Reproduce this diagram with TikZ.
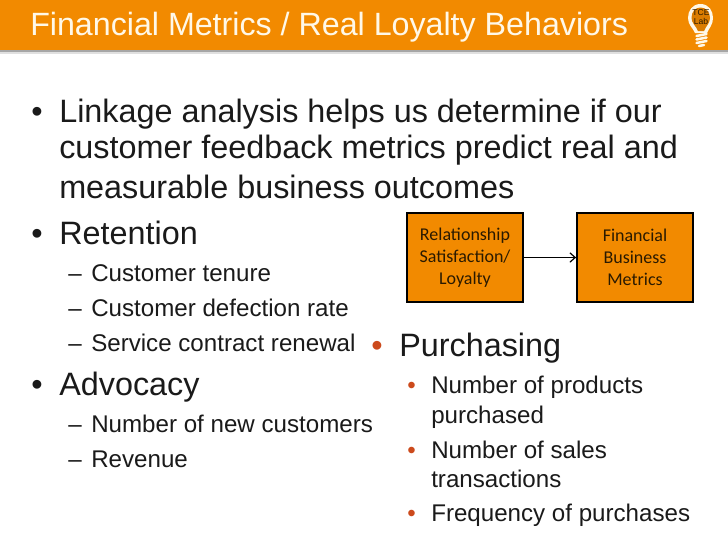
\documentclass[tikz,border=0pt]{standalone}
\usepackage{fontspec}
\setmainfont{Liberation Sans}
\newfontfamily\boxfont{Carlito}
\usetikzlibrary{arrows.meta}
\definecolor{tceorange}{HTML}{F28A00}
\definecolor{bulletred}{HTML}{CC4A1C}
\definecolor{bodyink}{HTML}{1A1A1A}
\definecolor{boxink}{HTML}{2A1A00}
\definecolor{bulbwhite}{HTML}{FFF8E8}
\tikzset{
  x=0.75pt,y=-0.75pt,
  titletext/.style={anchor=base west,inner sep=0,text=bulbwhite,font=\fontsize{24.15pt}{26pt}\selectfont},
  lvlone/.style={anchor=base west,inner sep=0,text=bodyink,font=\fontsize{24.27pt}{28pt}\selectfont},
  lvltwo/.style={anchor=base west,inner sep=0,text=bodyink,font=\fontsize{18.1pt}{20pt}\selectfont},
  flowbox/.style={draw=black,line width=1.3pt,fill=tceorange,minimum width=87pt,minimum height=66.5pt,inner sep=0,align=center,text=boxink,font=\boxfont\fontsize{13.5pt}{16.5pt}\selectfont},
}
\begin{document}
\begin{tikzpicture}
\useasboundingbox (0,0) rectangle (728,546);
\fill[white] (0,0) rectangle (728,546);
\fill[black!12] (0,50) rectangle (728,54);
\fill[black!35] (0,49) rectangle (728,52);
\fill[tceorange] (0,0) rectangle (728,50);
\node[titletext] (title) at (30,35) {Financial Metrics / Real Loyalty Behaviors};
% bulb
\fill[bulbwhite] (700.5,4) .. controls (692,4) and (688,11) .. (688,18) .. controls (688,25) and (693,28) .. (695,33) -- (707,33) .. controls (709,28) and (713,25) .. (713,18) .. controls (713,11) and (709,4) .. (700.5,4) -- cycle;
\fill[tceorange!90!black] (700.5,7.5) .. controls (695,7.5) and (691.5,12) .. (691.5,18) .. controls (691.5,23) and (696,26) .. (698,31) -- (704,31) .. controls (706,26) and (710,23) .. (710,18) .. controls (710,12) and (706,7.5) .. (700.5,7.5) -- cycle;
\draw[bulbwhite,line width=1.9pt,line cap=round] (696.5,36) -- (706.5,34) (696.5,39.5) -- (706.5,37.5) (696.5,43) -- (706.5,41) (699,46) -- (704,45);
\node[inner sep=0,align=center,text=boxink,font=\fontsize{6.4pt}{7pt}\selectfont] (logo) at (701,17) {TCE\\Lab};
% left column
\node[lvlone] (b1) at (31,122) {•};
\node[lvlone] (t1a) at (59,122) {Linkage analysis helps us determine if our};
\node[lvlone] (t1b) at (59,158) {customer feedback metrics predict real and};
\node[lvlone] (t1c) at (59,198) {measurable business outcomes};
\node[lvlone] (b2) at (31,244) {•};
\node[lvlone] (t2) at (59,244) {Retention};
\node[lvltwo] (d1) at (68,281) {–};
\node[lvltwo] (s1) at (91,281) {Customer tenure};
\node[lvltwo] (d2) at (68,316) {–};
\node[lvltwo] (s2) at (91,316) {Customer defection rate};
\node[lvltwo] (d3) at (68,351) {–};
\node[lvltwo] (s3) at (91,351) {Service contract renewal};
\node[lvlone] (b3) at (31,395) {•};
\node[lvlone] (t3) at (59,395) {Advocacy};
\node[lvltwo] (d4) at (68,432) {–};
\node[lvltwo] (s4) at (91,432) {Number of new customers};
\node[lvltwo] (d5) at (68,467) {–};
\node[lvltwo] (s5) at (91,467) {Revenue};
% right column
\node[lvlone,text=bulletred] (b4) at (371,356) {•};
\node[lvlone] (t4) at (399,356) {Purchasing};
\node[lvltwo,text=bulletred] (d6) at (407,393) {•};
\node[lvltwo] (r1a) at (431,393) {Number of products};
\node[lvltwo] (r1b) at (431,423) {purchased};
\node[lvltwo,text=bulletred] (d7) at (407,458) {•};
\node[lvltwo] (r2a) at (431,458) {Number of sales};
\node[lvltwo] (r2b) at (431,487) {transactions};
\node[lvltwo,text=bulletred] (d8) at (407,521) {•};
\node[lvltwo] (r3) at (431,521) {Frequency of purchases};
% flow
\node[flowbox] (rel) at (465,257.5) {Relationship\\Satisfaction/\\Loyalty};
\node[flowbox] (fin) at (635,257.5) {Financial\\Business\\Metrics};
\draw[line width=0.9pt,-{Straight Barb[length=4pt,width=7pt]}] (rel) -- (fin);
\end{tikzpicture}
\end{document}
